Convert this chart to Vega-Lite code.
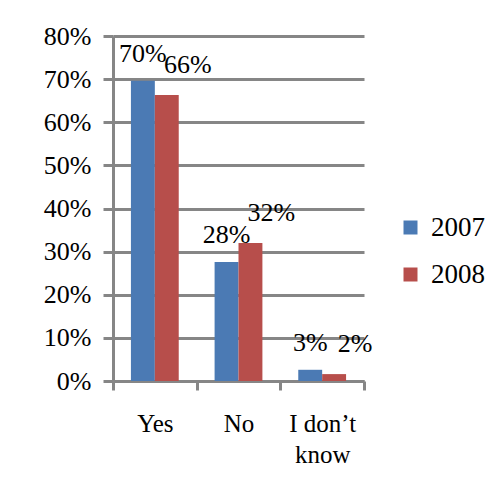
{
  "$schema": "https://vega.github.io/schema/vega-lite/v6.json",
  "width": 251,
  "height": 345,
  "autosize": {"type": "none"},
  "padding": {"left": 113, "top": 36, "right": 131, "bottom": 113},
  "background": "white",
  "config": {
    "view": {"stroke": null},
    "font": "Liberation Serif",
    "axis": {"labelColor": "black", "labelFont": "Liberation Serif"},
    "legend": {"labelFont": "Liberation Serif"}
  },
  "data": {
    "values": [
      {"answer": "Yes", "year": "2007", "value": 0.696},
      {"answer": "Yes", "year": "2008", "value": 0.663},
      {"answer": "No", "year": "2007", "value": 0.276},
      {"answer": "No", "year": "2008", "value": 0.32},
      {"answer": "I don’t know", "year": "2007", "value": 0.026},
      {"answer": "I don’t know", "year": "2008", "value": 0.016}
    ]
  },
  "encoding": {
    "x": {
      "field": "answer",
      "type": "nominal",
      "sort": ["Yes", "No", "I don’t know"],
      "scale": {"paddingInner": 0, "paddingOuter": 0},
      "axis": {
        "title": null,
        "labelAngle": 0,
        "labelFontSize": 25,
        "labelPadding": 21,
        "labelOverlap": false,
        "tickSize": 9,
        "tickWidth": 3,
        "tickColor": "#868686",
        "tickBand": "extent",
        "domainColor": "#868686",
        "domainWidth": 3,
        "labelLineHeight": 31,
        "labelExpr": "datum.label == 'I don’t know' ? ['I don’t', 'know'] : datum.label"
      }
    },
    "xOffset": {
      "field": "year",
      "type": "nominal",
      "scale": {"paddingInner": 0, "paddingOuter": 0.75}
    },
    "y": {
      "field": "value",
      "type": "quantitative",
      "scale": {"domain": [0, 0.8]},
      "axis": {
        "title": null,
        "format": ".0%",
        "values": [0, 0.1, 0.2, 0.3, 0.4, 0.5, 0.6, 0.7, 0.8],
        "labelOverlap": false,
        "labelFontSize": 26,
        "labelPadding": 12,
        "tickSize": 10,
        "tickWidth": 3,
        "tickColor": "#868686",
        "grid": true,
        "gridColor": "#868686",
        "gridWidth": 3,
        "domainColor": "#868686",
        "domainWidth": 3
      }
    }
  },
  "layer": [
    {
      "mark": {"type": "bar"},
      "encoding": {
        "color": {
          "field": "year",
          "type": "nominal",
          "scale": {"domain": ["2007", "2008"], "range": ["#4b7ab4", "#b74e4b"]},
          "legend": {
            "title": null,
            "orient": "none",
            "legendX": 284,
            "legendY": 178,
            "symbolType": "square",
            "symbolSize": 196,
            "symbolStrokeWidth": 0,
            "labelFontSize": 27,
            "labelColor": "black",
            "labelOffset": 7,
            "rowPadding": 19,
            "padding": 0
          }
        }
      }
    },
    {
      "transform": [{"filter": "datum.year == '2007'"}],
      "mark": {"type": "text", "baseline": "alphabetic", "dy": -19, "fontSize": 26, "color": "black"},
      "encoding": {"text": {"field": "value", "type": "quantitative", "format": ".0%"}}
    },
    {
      "transform": [{"filter": "datum.year == '2008'"}],
      "mark": {"type": "text", "baseline": "alphabetic", "dx": 21, "dy": -22, "fontSize": 26, "color": "black"},
      "encoding": {"text": {"field": "value", "type": "quantitative", "format": ".0%"}}
    }
  ]
}
